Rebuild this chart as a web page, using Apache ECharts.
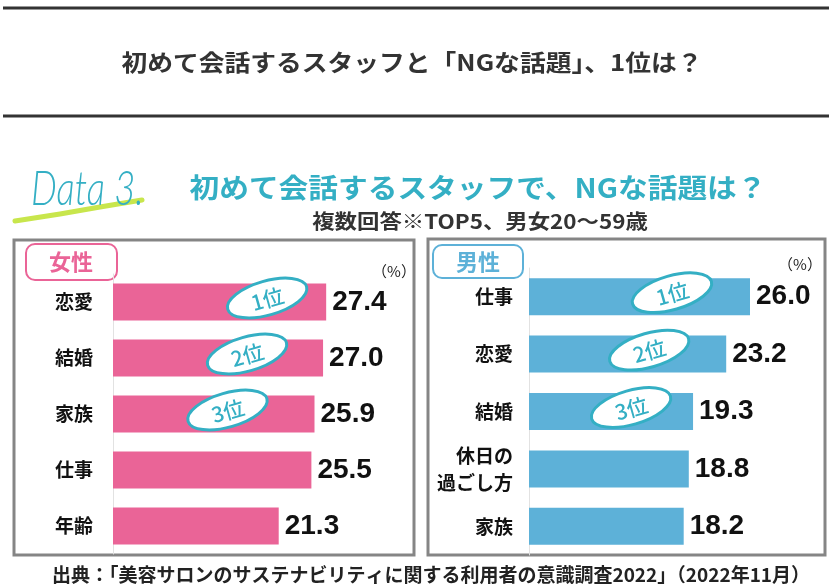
<!DOCTYPE html>
<html><head><meta charset="utf-8">
<script src="https://cdn.jsdelivr.net/npm/echarts@6/dist/echarts.min.js"></script>
<style>html,body{margin:0;padding:0;background:#fff}#c{width:829px;height:588px}</style>
</head><body><div id="c"></div>
<script>
// ---- data ----
const femaleCats = ['恋愛', '結婚', '家族', '仕事', '年齢'];
const femaleVals = [27.4, 27.0, 25.9, 25.5, 21.3];
const maleCats = ['仕事', '恋愛', '結婚', '休日の\n過ごし方', '家族'];
const maleVals = [26.0, 23.2, 19.3, 18.8, 18.2];
const rankLabels = ['1位', '2位', '3位'];

// ---- layout / style config ----
const JP = '"Noto Sans CJK JP","Noto Sans",sans-serif';
const NUM = '"Liberation Sans","Roboto",sans-serif';
const TEAL = '#34afc4';
const PINK = '#ea6497';
const BLUE = '#5db1d8';
const femaleBadgeShift = [-59, -76, -87];
const maleBadgeShift = [-78, -77, -62];

const chart = echarts.init(document.getElementById('c'), null, {renderer: 'canvas'});

function badgeSeries(idx, vals, shifts) {
  return {
    type: 'custom', xAxisIndex: idx, yAxisIndex: idx, z: 10,
    data: rankLabels.map((r, i) => [vals[i], i, r]),
    renderItem: function (params, api) {
      const i = params.dataIndex;
      const p = api.coord([api.value(0), api.value(1)]);
      const cx = p[0] + shifts[i], cy = p[1] - 4;
      const rot = 16 * Math.PI / 180;
      return {
        type: 'group', x: cx, y: cy, rotation: rot,
        children: [
          {type: 'ellipse', shape: {cx: 0, cy: 0, rx: 41, ry: 17},
           style: {fill: '#fff', stroke: TEAL, lineWidth: 3}},
          {type: 'text', x: 0, y: 1,
           style: {text: rankLabels[i], fill: TEAL, font: '500 21px ' + JP,
                   align: 'center', verticalAlign: 'middle'}}
        ]
      };
    }
  };
}

function barSeries(idx, vals, color) {
  return {
    type: 'bar', xAxisIndex: idx, yAxisIndex: idx, data: vals, barWidth: 37,
    itemStyle: {color: color},
    label: {show: true, position: 'right', distance: 6, color: '#111',
            fontFamily: NUM, fontWeight: 'bold', fontSize: 28, formatter: p => p.value.toFixed(1)},
    silent: true
  };
}

const option = {
  animation: false,
  grid: [
    {left: 113, top: 274, width: 233.4, height: 280},
    {left: 529, top: 268, width: 255, height: 287}
  ],
  xAxis: [
    {gridIndex: 0, type: 'value', min: 0, max: 30, show: false},
    {gridIndex: 1, type: 'value', min: 0, max: 30, show: false}
  ],
  yAxis: [
    {gridIndex: 0, type: 'category', data: femaleCats, inverse: true,
     axisLine: {lineStyle: {color: '#e2e2e2', width: 1}}, axisTick: {show: false},
     axisLabel: {margin: 20, color: '#111', fontFamily: JP, fontWeight: 'bold', fontSize: 19}},
    {gridIndex: 1, type: 'category', data: maleCats, inverse: true,
     axisLine: {lineStyle: {color: '#e2e2e2', width: 1}}, axisTick: {show: false},
     axisLabel: {margin: 16, color: '#111', fontFamily: JP, fontWeight: 'bold', fontSize: 19, lineHeight: 27}}
  ],
  series: [
    barSeries(0, femaleVals, PINK),
    barSeries(1, maleVals, BLUE),
    badgeSeries(0, femaleVals, femaleBadgeShift),
    badgeSeries(1, maleVals, maleBadgeShift)
  ],
  graphic: [
    {type: 'line', shape: {x1: 3, y1: 8, x2: 829, y2: 8}, style: {stroke: '#333', lineWidth: 3}},
    {type: 'line', shape: {x1: 3, y1: 116, x2: 829, y2: 116}, style: {stroke: '#333', lineWidth: 3}},
    {type: 'text', x: 412, y: 62, scaleX: 1.12, style: {text: '初めて会話するスタッフと「NGな話題」、1位は？',
      font: 'bold 23px ' + JP, fill: '#333', align: 'center', verticalAlign: 'middle'}},
    {type: 'polyline', z: 1, shape: {points: [[15, 221], [60, 214], [100, 207], [142, 200]]},
      style: {stroke: '#c8e64c', lineWidth: 5, lineCap: 'round', fill: null}},
    {type: 'text', z: 2, x: 31, y: 190, scaleX: 0.76, style: {text: 'Data 3.', font: 'italic 300 48px Lato, "DejaVu Sans", sans-serif',
      fill: TEAL, verticalAlign: 'middle'}},
    {type: 'text', x: 478, y: 188, scaleX: 1.1, style: {text: '初めて会話するスタッフで、NGな話題は？',
      font: 'bold 27px ' + JP, fill: TEAL, align: 'center', verticalAlign: 'middle'}},
    {type: 'text', x: 480, y: 221, scaleX: 1.12, style: {text: '複数回答※TOP5、男女20～59歳',
      font: 'bold 20px ' + JP, fill: '#333', align: 'center', verticalAlign: 'middle'}},
    {type: 'rect', shape: {x: 14, y: 240, width: 400, height: 315},
      style: {fill: null, stroke: '#858585', lineWidth: 3}},
    {type: 'rect', shape: {x: 428, y: 239, width: 397, height: 316},
      style: {fill: null, stroke: '#858585', lineWidth: 3}},
    {type: 'rect', shape: {x: 26, y: 244, width: 91, height: 36, r: 9},
      style: {fill: '#fff', stroke: PINK, lineWidth: 2}},
    {type: 'text', x: 71, y: 262, style: {text: '女性', font: 'bold 22px ' + JP, fill: PINK,
      align: 'center', verticalAlign: 'middle'}},
    {type: 'rect', shape: {x: 433, y: 245, width: 90, height: 33, r: 9},
      style: {fill: '#fff', stroke: BLUE, lineWidth: 2}},
    {type: 'text', x: 478, y: 262, style: {text: '男性', font: 'bold 22px ' + JP, fill: BLUE,
      align: 'center', verticalAlign: 'middle'}},
    {type: 'text', x: 394, y: 271, style: {text: '（%）', font: '15px ' + JP, fill: '#222',
      align: 'center', verticalAlign: 'middle'}},
    {type: 'text', x: 800, y: 264, style: {text: '（%）', font: '15px ' + JP, fill: '#222',
      align: 'center', verticalAlign: 'middle'}},
    {type: 'text', x: 431, y: 575, style: {text: '出典：「美容サロンのサステナビリティに関する利用者の意識調査2022」（2022年11月）',
      font: 'bold 19px ' + JP, fill: '#222', align: 'center', verticalAlign: 'middle'}}
  ]
};
chart.setOption(option);
</script></body></html>
